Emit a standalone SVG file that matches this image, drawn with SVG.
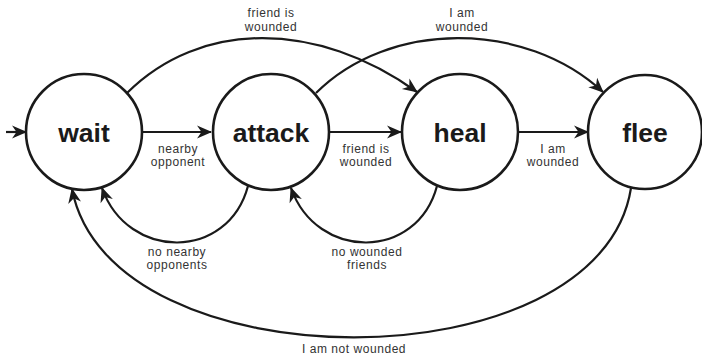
<svg xmlns="http://www.w3.org/2000/svg" width="702" height="358" viewBox="0 0 702 358">
<style>
.node circle{fill:#fff;stroke:#1a1a1a;stroke-width:2.6}
.node text{font-family:"Liberation Sans",Arial,sans-serif;font-weight:bold;font-size:26.5px;fill:#1a1a1a;text-anchor:middle}
.edge{fill:none;stroke:#1a1a1a;stroke-width:2.2;marker-end:url(#arr)}
.lbl{font-family:"Liberation Sans",Arial,sans-serif;font-size:12px;letter-spacing:0.55px;fill:#333;text-anchor:middle}
</style>
<defs>
<marker id="arr" markerUnits="userSpaceOnUse" orient="auto" markerWidth="20" markerHeight="20" refX="0" refY="0" overflow="visible">
<path d="M1,0 L-14,-6.5 L-9.5,0 L-14,6.5 Z" fill="#1a1a1a"/>
</marker>
</defs>
<rect width="702" height="358" fill="#fff"/>
<g id="connectors">
<path class="edge" d="M6,132 L26,132"/>
<path class="edge" d="M142,132 L211,132"/>
<path class="edge" d="M330,132 L401,132"/>
<path class="edge" d="M518,132 L588,132"/>
<path class="edge" d="M127,93 C200,20 317,20 417,92"/>
<path class="edge" d="M316,93 C389,20 525,20 603,92"/>
<path class="edge" d="M248,186 C228,261 128,261 102,188"/>
<path class="edge" d="M437,186 C417,261 317,261 291,188"/>
<path class="edge" d="M631,188 C600,387 110,387 72,189"/>
</g>
<g id="labels">
<text class="lbl" x="178" y="153">nearby</text>
<text class="lbl" x="178" y="166">opponent</text>
<text class="lbl" x="366" y="153">friend is</text>
<text class="lbl" x="366" y="166">wounded</text>
<text class="lbl" x="553" y="153">I am</text>
<text class="lbl" x="553" y="166">wounded</text>
<text class="lbl" x="271" y="17">friend is</text>
<text class="lbl" x="271" y="31">wounded</text>
<text class="lbl" x="462" y="17">I am</text>
<text class="lbl" x="462" y="31">wounded</text>
<text class="lbl" x="177" y="256">no nearby</text>
<text class="lbl" x="177" y="269">opponents</text>
<text class="lbl" x="367" y="256">no wounded</text>
<text class="lbl" x="367" y="269">friends</text>
<text class="lbl" x="354" y="353">I am not wounded</text>
</g>
<g id="wait" class="node"><circle cx="84" cy="132" r="58"/><text x="84" y="142">wait</text></g>
<g id="attack" class="node"><circle cx="271" cy="132" r="58"/><text x="271" y="142">attack</text></g>
<g id="heal" class="node"><circle cx="460" cy="132" r="58"/><text x="460" y="142">heal</text></g>
<g id="flee" class="node"><circle cx="645" cy="132" r="57"/><text x="645" y="142">flee</text></g>
</svg>
